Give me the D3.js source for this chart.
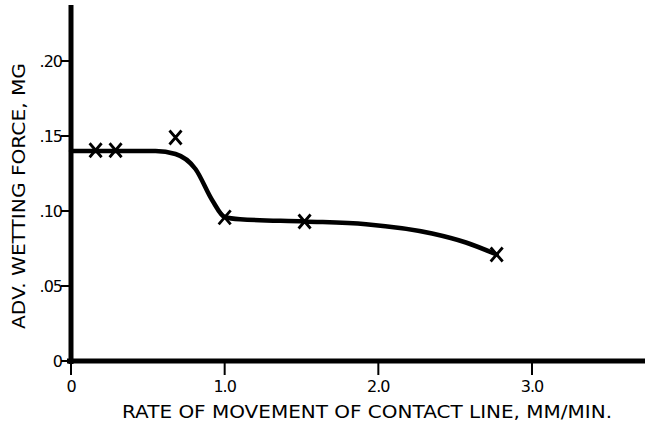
<!DOCTYPE html>
<html>
<head>
<meta charset="utf-8">
<script src="https://cdn.jsdelivr.net/npm/d3@7"></script>
<style>
  body { margin: 0; background: #fff; }
  text { font-family: "DejaVu Sans", sans-serif; fill: #000; }
</style>
</head>
<body>
<svg id="canvas" width="645" height="429"></svg>
<script>
// measured points (X marks)
const rates = [0.16, 0.29, 0.68, 1.0, 1.52, 2.77];
const forces = [0.1405, 0.1405, 0.149, 0.0957, 0.093, 0.071];

// hand-drawn fitted curve
const curveRates = [0, 0.55, 0.68, 0.81, 0.92, 1.0, 1.1, 1.52, 1.92, 2.35, 2.57, 2.77];
const curveForces = [0.140, 0.140, 0.138, 0.128, 0.107, 0.096, 0.0945, 0.093, 0.0912, 0.085, 0.079, 0.071];

const xTicks = [0, 1, 2, 3];
const xTickLabels = ["0", "1.0", "2.0", "3.0"];
const yTicks = [0, 0.05, 0.10, 0.15, 0.20];
const yTickLabels = ["0", ".05", ".10", ".15", ".20"];

const xTitle = "RATE OF MOVEMENT OF CONTACT LINE, MM/MIN.";
const yTitle = "ADV. WETTING FORCE, MG";

const svg = d3.select("#canvas");

const x = d3.scaleLinear().domain([0, 3]).range([71, 532]);
const y = d3.scaleLinear().domain([0, 0.20]).range([361, 61]);

// axes lines
svg.append("line")
    .attr("x1", x(0)).attr("x2", x(0))
    .attr("y1", 5).attr("y2", y(0) + 3)
    .attr("stroke", "#000").attr("stroke-width", 5);

svg.append("line")
    .attr("x1", x(0) - 4).attr("x2", 645)
    .attr("y1", y(0)).attr("y2", y(0))
    .attr("stroke", "#000").attr("stroke-width", 5);

// y ticks
const yt = svg.append("g");
yt.selectAll("line").data(yTicks).join("line")
    .attr("x1", x(0) - 10).attr("x2", x(0))
    .attr("y1", d => y(d)).attr("y2", d => y(d))
    .attr("stroke", "#000").attr("stroke-width", 2);
yt.selectAll("text").data(yTicks).join("text")
    .attr("x", x(0) - 9)
    .attr("y", d => y(d) + 6)
    .attr("text-anchor", "end")
    .style("font-size", "16px")
    .style("letter-spacing", "-1px")
    .text((d, i) => yTickLabels[i]);

// x ticks
const xt = svg.append("g");
xt.selectAll("line").data(xTicks).join("line")
    .attr("x1", d => x(d)).attr("x2", d => x(d))
    .attr("y1", y(0)).attr("y2", y(0) + 14)
    .attr("stroke", "#000").attr("stroke-width", 2);
xt.selectAll("text").data(xTicks).join("text")
    .attr("x", d => x(d))
    .attr("y", 392)
    .attr("text-anchor", "middle")
    .style("font-size", "16px")
    .style("letter-spacing", "-1px")
    .text((d, i) => xTickLabels[i]);

// axis titles
svg.append("text")
    .attr("x", 122).attr("y", 418)
    .attr("textLength", 490).attr("lengthAdjust", "spacingAndGlyphs")
    .style("font-size", "17px")
    .text(xTitle);

svg.append("text")
    .attr("transform", "translate(25,329) rotate(-90)")
    .attr("textLength", 266).attr("lengthAdjust", "spacingAndGlyphs")
    .style("font-size", "17px")
    .text(yTitle);

// curve
const curvePts = curveRates.map((r, i) => [r, curveForces[i]]);
svg.append("path")
    .datum(curvePts)
    .attr("fill", "none")
    .attr("stroke", "#000")
    .attr("stroke-width", 4.5)
    .attr("stroke-linecap", "round")
    .attr("d", d3.line().x(d => x(d[0])).y(d => y(d[1])).curve(d3.curveMonotoneX));

// X markers
const pts = rates.map((r, i) => [r, forces[i]]);
svg.append("g").selectAll("path").data(pts).join("path")
    .attr("transform", d => "translate(" + x(d[0]) + "," + y(d[1]) + ")")
    .attr("d", "M-6,-7L6,7M6,-7L-6,7")
    .attr("stroke", "#000")
    .attr("stroke-width", 2.8)
    .attr("fill", "none");
</script>
</body>
</html>
